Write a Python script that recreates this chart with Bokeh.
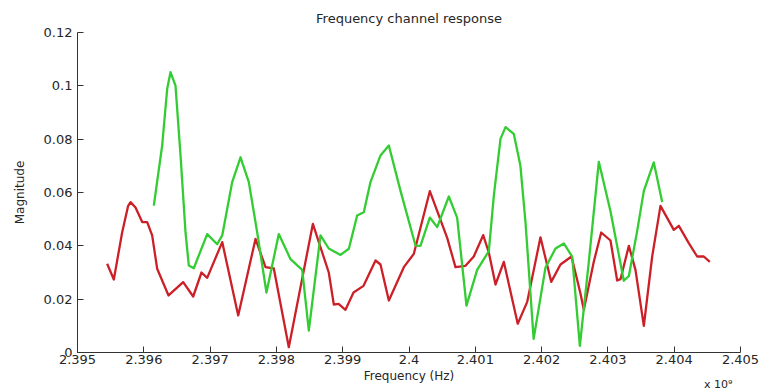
from bokeh.plotting import figure
from bokeh.models import FixedTicker, CustomJSTickFormatter, Range1d, Title
from bokeh.embed import file_html
from bokeh.resources import INLINE

# ---- data (frequency in GHz, i.e. x 10^9 Hz) ----
red_freq = [2.395447, 2.395548, 2.395674, 2.395764, 2.395800, 2.395875, 2.395976, 2.396051,
            2.396126, 2.396202, 2.396373, 2.396594, 2.396745, 2.396870, 2.396956,
            2.397183, 2.397424, 2.397685, 2.397836, 2.397961, 2.398187, 2.398550,
            2.398790, 2.398866, 2.398937, 2.399042, 2.399163, 2.399314, 2.399495,
            2.399570, 2.399696, 2.399922, 2.400073, 2.400314, 2.400576, 2.400701,
            2.400852, 2.400977, 2.401119, 2.401204, 2.401305, 2.401430, 2.401640,
            2.401783, 2.401983, 2.402145, 2.402285, 2.402451, 2.402587, 2.402637,
            2.402787, 2.402899, 2.403039, 2.403140, 2.403190, 2.403316, 2.403416,
            2.403542, 2.403668, 2.403793, 2.403994, 2.404070, 2.404220, 2.404347,
            2.404447, 2.404537]
red_mag = [0.0333, 0.0274, 0.0451, 0.0550, 0.0564, 0.0544, 0.0489, 0.0489,
           0.0439, 0.0314, 0.0214, 0.0264, 0.0210, 0.0300, 0.0280,
           0.0414, 0.0139, 0.0426, 0.0320, 0.0315, 0.0020, 0.0482,
           0.0300, 0.0180, 0.0182, 0.0160, 0.0225, 0.0250, 0.0345,
           0.0330, 0.0195, 0.0320, 0.0370, 0.0605, 0.0430, 0.0320,
           0.0325, 0.0360, 0.0440, 0.0375, 0.0255, 0.0340, 0.0108,
           0.0190, 0.0432, 0.0265, 0.0330, 0.0360, 0.0220, 0.0160,
           0.0340, 0.0450, 0.0420, 0.0270, 0.0275, 0.0400, 0.0310,
           0.0100, 0.0360, 0.0550, 0.0460, 0.0475, 0.0410, 0.0360,
           0.0360, 0.0340]

green_freq = [2.396151, 2.396277, 2.396353, 2.396403, 2.396478, 2.396554, 2.396629,
              2.396679, 2.396754, 2.396956, 2.397107, 2.397183, 2.397333, 2.397459,
              2.397584, 2.397710, 2.397850, 2.398036, 2.398213, 2.398389, 2.398489,
              2.398665, 2.398790, 2.398967, 2.399093, 2.399218, 2.399318, 2.399419,
              2.399570, 2.399696, 2.399872, 2.400098, 2.400173, 2.400314, 2.400425,
              2.400601, 2.400726, 2.400867, 2.401028, 2.401204, 2.401280, 2.401380,
              2.401456, 2.401580, 2.401680, 2.401757, 2.401880, 2.402059, 2.402210,
              2.402335, 2.402461, 2.402577, 2.402712, 2.402863, 2.403039, 2.403240,
              2.403316, 2.403442, 2.403542, 2.403692, 2.403819]
green_mag = [0.0551, 0.0776, 0.0989, 0.1051, 0.1001, 0.0739, 0.0451,
             0.0326, 0.0316, 0.0444, 0.0406, 0.0439, 0.0639, 0.0732,
             0.0639, 0.0451, 0.0225, 0.0444, 0.0350, 0.0310, 0.0082,
             0.0439, 0.0390, 0.0366, 0.0389, 0.0514, 0.0526, 0.0639,
             0.0739, 0.0776, 0.0606, 0.0401, 0.0400, 0.0506, 0.0470,
             0.0585, 0.0506, 0.0176, 0.0310, 0.0380, 0.0589, 0.0801,
             0.0845, 0.0820, 0.0701, 0.0489, 0.0051, 0.0319, 0.0390,
             0.0409, 0.0360, 0.0025, 0.0340, 0.0715, 0.0530, 0.0269,
             0.0287, 0.0456, 0.0606, 0.0713, 0.0564]

x_ticks = [2.395, 2.396, 2.397, 2.398, 2.399, 2.400, 2.401, 2.402, 2.403, 2.404, 2.405]
y_ticks = [0, 0.02, 0.04, 0.06, 0.08, 0.10, 0.12]

title_text = "Frequency channel response"
x_label = "Frequency (Hz)"
y_label = "Magnitude"
x_exponent = "x 10\u2079"

FONT = "DejaVu Sans"
TXT = "#262626"

p = figure(width=761, height=390, output_backend="svg", toolbar_location=None,
           x_range=Range1d(2.395, 2.405), y_range=Range1d(0, 0.12),
           min_border_left=77, min_border_right=21, min_border_top=32,
           min_border_bottom=38)
p.outline_line_color = None
p.xgrid.visible = False
p.ygrid.visible = False
p.background_fill_color = "white"
p.border_fill_color = "white"

p.line(red_freq, red_mag, line_color="#cc2028", line_width=2.3, line_join="round")
p.line(green_freq, green_mag, line_color="#33cc33", line_width=2.3, line_join="round")

for ax in (p.xaxis[0], p.yaxis[0]):
    ax.axis_line_color = "#333333"
    ax.major_tick_line_color = "#333333"
    ax.major_tick_in = 6
    ax.major_tick_out = 0
    ax.minor_tick_line_color = None
    ax.major_label_text_font = FONT
    ax.major_label_text_font_size = "13px"
    ax.major_label_text_color = TXT
    ax.axis_label_text_font = FONT
    ax.axis_label_text_font_style = "normal"
    ax.axis_label_text_color = TXT

p.xaxis.ticker = FixedTicker(ticks=x_ticks)
p.yaxis.ticker = FixedTicker(ticks=y_ticks)
p.xaxis.formatter = CustomJSTickFormatter(code="return String(parseFloat(tick.toFixed(3)));")
p.yaxis.formatter = CustomJSTickFormatter(code="return String(parseFloat(tick.toFixed(2)));")

p.xaxis.axis_label = x_label
p.xaxis.axis_label_text_font_size = "12px"
p.xaxis.axis_label_standoff = 2
p.xaxis.major_label_standoff = 2

p.yaxis.axis_label = y_label
p.yaxis.axis_label_text_font_size = "12px"
p.yaxis.axis_label_standoff = 14
p.yaxis.major_label_standoff = 5

p.title.text = title_text
p.title.align = "center"
p.title.text_font = FONT
p.title.text_font_size = "13px"
p.title.text_font_style = "normal"
p.title.text_color = TXT
p.title.standoff = 13

expo = Title(text=x_exponent, align="right", vertical_align="top", offset=8,
             text_font=FONT, text_font_size="11px",
             text_font_style="normal", text_color=TXT)
try:
    expo.standoff = -15
except Exception:
    expo.standoff = 0
p.add_layout(expo, "below")

open("out.html", "w").write(file_html(p, INLINE))
